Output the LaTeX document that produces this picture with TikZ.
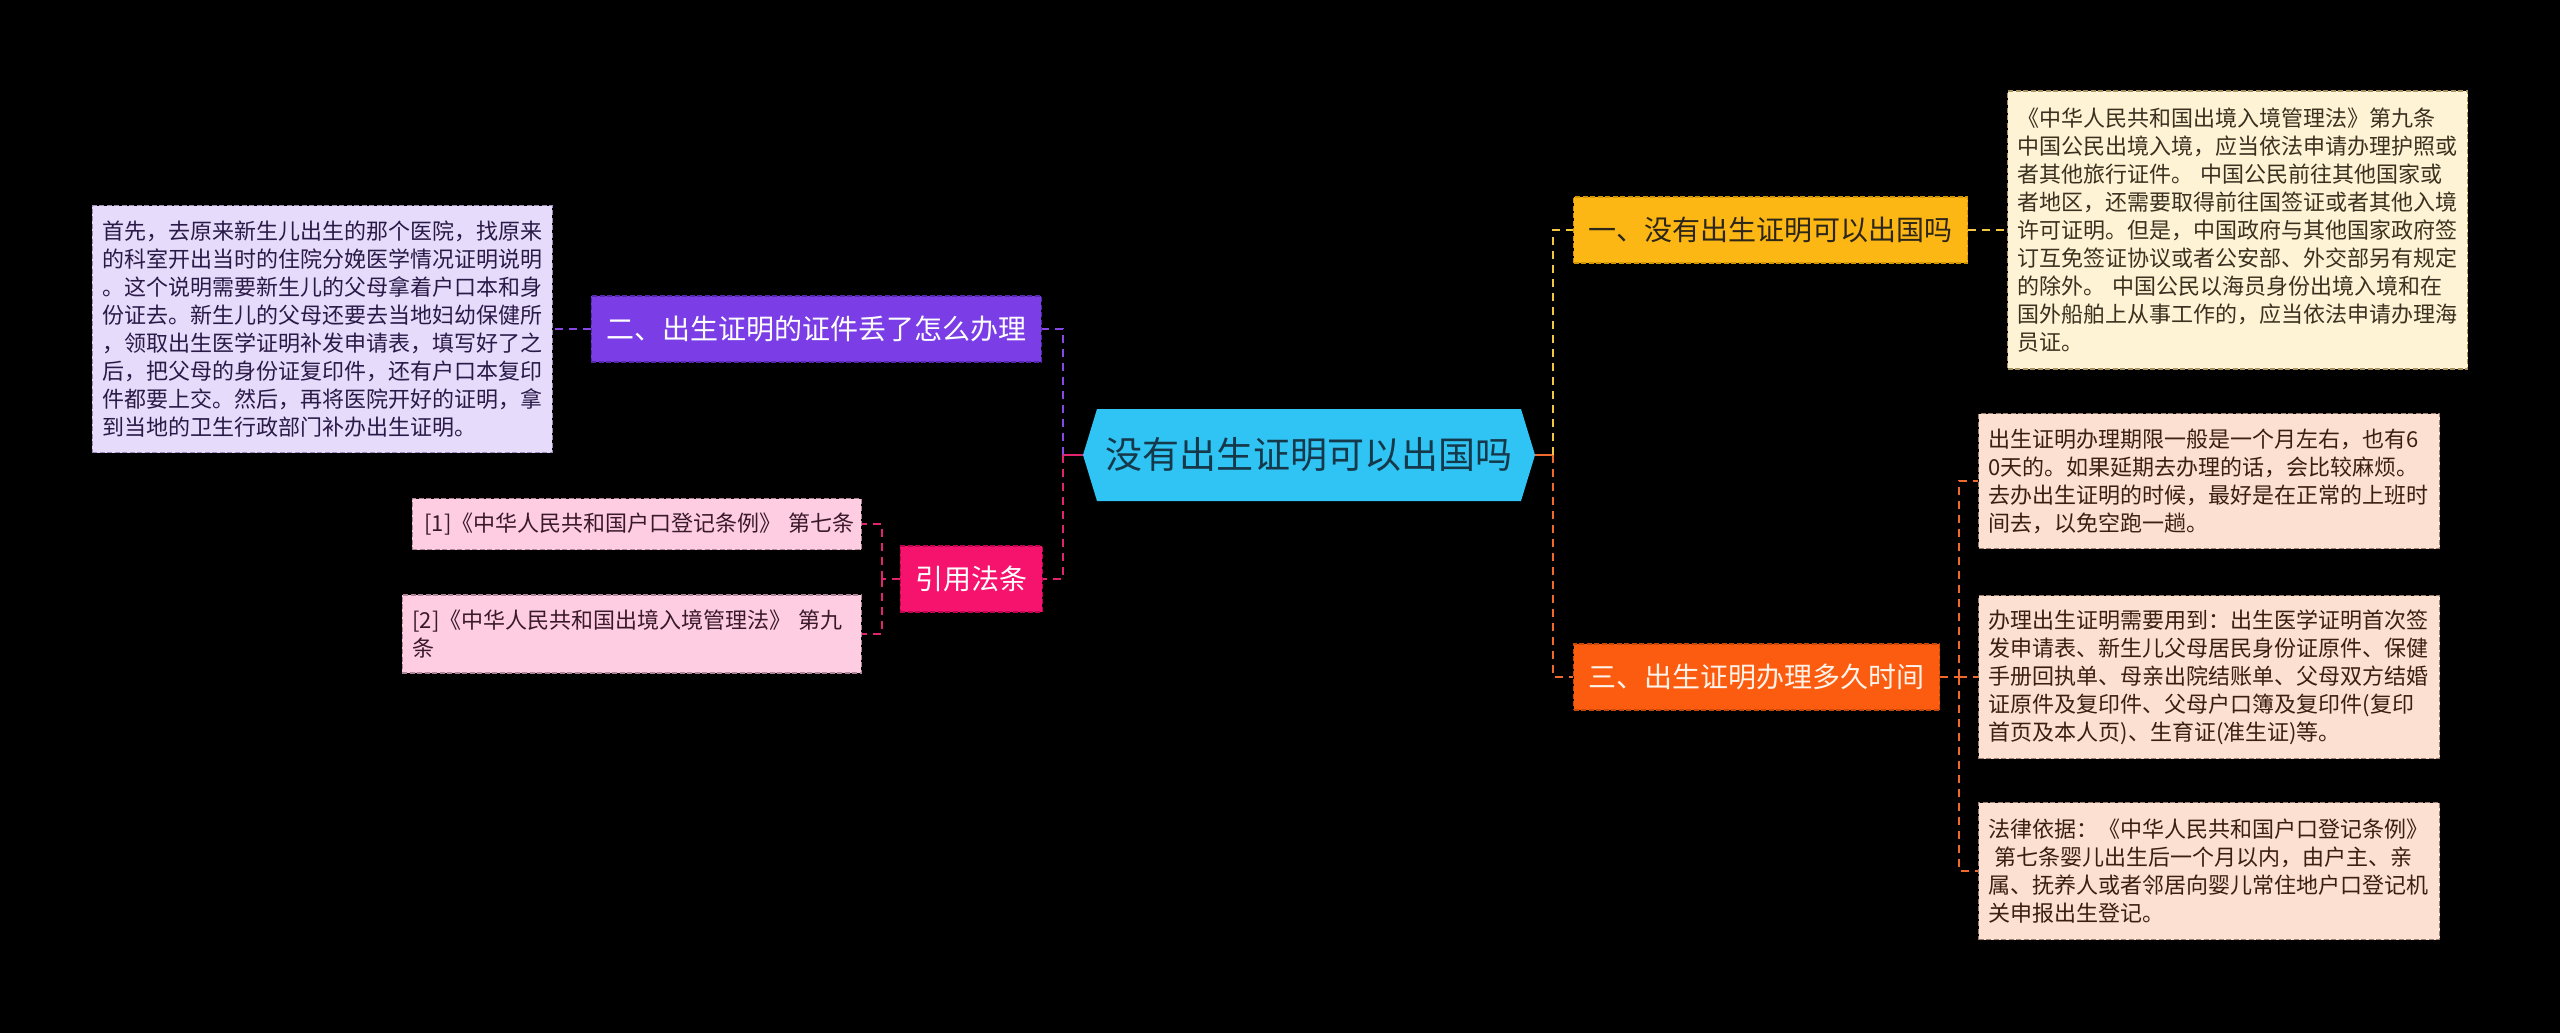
\documentclass[tikz,border=0pt]{standalone}
\usepackage{fontspec}
\setmainfont{Noto Sans CJK SC}
\usepackage{tikz}

\definecolor{rootfill}{HTML}{2FC4F3}
\definecolor{rootink}{HTML}{15394A}
\definecolor{yelfill}{HTML}{FDB714}
\definecolor{yeledge}{HTML}{D39506}
\definecolor{yelink}{HTML}{2B2618}
\definecolor{yelleaf}{HTML}{FEF3D4}
\definecolor{yelleafedge}{HTML}{A8925E}
\definecolor{yelleafink}{HTML}{3A3120}
\definecolor{yelline}{HTML}{F2C744}
\definecolor{orfill}{HTML}{FC5C10}
\definecolor{oredge}{HTML}{C94806}
\definecolor{orink}{HTML}{FFF2E8}
\definecolor{orleaf}{HTML}{FCE1D3}
\definecolor{orleafedge}{HTML}{9E7E6C}
\definecolor{orleafink}{HTML}{3B2012}
\definecolor{orline}{HTML}{EF6A2C}
\definecolor{purfill}{HTML}{7B3EE6}
\definecolor{puredge}{HTML}{5527AE}
\definecolor{purleaf}{HTML}{E6DBFA}
\definecolor{purleafedge}{HTML}{9A8CB8}
\definecolor{purleafink}{HTML}{2A1A48}
\definecolor{purline}{HTML}{8848E6}
\definecolor{pinkfill}{HTML}{F5136D}
\definecolor{pinkedge}{HTML}{BF0350}
\definecolor{pinkleaf}{HTML}{FECDE2}
\definecolor{pinkleafedge}{HTML}{B0859A}
\definecolor{pinkleafink}{HTML}{3A1A2A}
\definecolor{pinkline}{HTML}{E0246E}

\begin{document}
\begin{tikzpicture}[x=1pt,y=-1pt,
    box/.style={draw, dash pattern=on 5pt off 2.5pt, line width=1.2pt},
    branch/.style={box, inner xsep=15pt, inner ysep=0pt, minimum height=66pt,
      font=\fontsize{28pt}{34pt}\selectfont},
    leaf/.style={box, inner xsep=10pt, inner ysep=0pt, align=left,
      font=\fontsize{22pt}{28pt}\selectfont},
    link/.style={line width=2.6pt, dash pattern=on 8pt off 6pt},
    root/.style={fill=black, minimum width=452pt, minimum height=92pt, inner sep=0pt,
      text=rootink, font=\fontsize{37pt}{44pt}\selectfont,
      path picture={\fill[rootfill] ([xshift=14pt]path picture bounding box.north west)
        -- ([xshift=-14pt]path picture bounding box.north east)
        -- (path picture bounding box.east)
        -- ([xshift=-14pt]path picture bounding box.south east)
        -- ([xshift=14pt]path picture bounding box.south west)
        -- (path picture bounding box.west) -- cycle;}}]
          \useasboundingbox (0,0) rectangle (2560,1033);
          \fill[black] (0,0) rectangle (2560,1033);

          % centre
          \node[root] (root) at (1309,455) {没有出生证明可以出国吗};

          % branches
          \node[branch, anchor=west, fill=yelfill, draw=yeledge, text=yelink] (yb) at (1573,230) {一、没有出生证明可以出国吗};
          \node[branch, anchor=west, fill=orfill, draw=oredge, text=orink] (ob) at (1573,677) {三、出生证明办理多久时间};
          \node[branch, anchor=east, fill=purfill, draw=puredge, text=white] (pb) at (1042,329) {二、出生证明的证件丢了怎么办理};
          \node[branch, anchor=east, fill=pinkfill, draw=pinkedge, text=white] (kb) at (1043,579) {引用法条};

          % leaves
          \node[leaf, anchor=west, text width=440pt, minimum height=278pt, fill=yelleaf, draw=yelleafedge, text=yelleafink] (yc) at (2007,230) {《中华人民共和国出境入境管理法》第九条\\中国公民出境入境，应当依法申请办理护照或\\者其他旅行证件。~中国公民前往其他国家或\\者地区，还需要取得前往国签证或者其他入境\\许可证明。但是，中国政府与其他国家政府签\\订互免签证协议或者公安部、外交部另有规定\\的除外。~中国公民以海员身份出境入境和在\\国外船舶上从事工作的，应当依法申请办理海\\员证。};
          \node[leaf, anchor=west, text width=441pt, minimum height=135pt, fill=orleaf, draw=orleafedge, text=orleafink] (oc1) at (1978,481) {出生证明办理期限一般是一个月左右，也有6\\0天的。如果延期去办理的话，会比较麻烦。\\去办出生证明的时候，最好是在正常的上班时\\间去，以免空跑一趟。};
          \node[leaf, anchor=west, text width=441pt, minimum height=163pt, fill=orleaf, draw=orleafedge, text=orleafink] (oc2) at (1978,677) {办理出生证明需要用到：出生医学证明首次签\\发申请表、新生儿父母居民身份证原件、保健\\手册回执单、母亲出院结账单、父母双方结婚\\证原件及复印件、父母户口簿及复印件(复印\\首页及本人页)、生育证(准生证)等。};
          \node[leaf, anchor=west, text width=441pt, minimum height=137pt, fill=orleaf, draw=orleafedge, text=orleafink] (oc3) at (1978,871) {法律依据：《中华人民共和国户口登记条例》\\\hspace*{6pt}第七条婴儿出生后一个月以内，由户主、亲\\属、抚养人或者邻居向婴儿常住地户口登记机\\关申报出生登记。};
          \node[leaf, anchor=east, text width=440pt, minimum height=247pt, fill=purleaf, draw=purleafedge, text=purleafink] (pc) at (553,329) {首先，去原来新生儿出生的那个医院，找原来\\的科室开出当时的住院分娩医学情况证明说明\\。这个说明需要新生儿的父母拿着户口本和身\\份证去。新生儿的父母还要去当地妇幼保健所\\，领取出生医学证明补发申请表，填写好了之\\后，把父母的身份证复印件，还有户口本复印\\件都要上交。然后，再将医院开好的证明，拿\\到当地的卫生行政部门补办出生证明。};
          \node[leaf, anchor=east, text width=429pt, minimum height=51pt, fill=pinkleaf, draw=pinkleafedge, text=pinkleafink] (kc1) at (862,524) {\hspace*{2pt}[1]《中华人民共和国户口登记条例》~第七条};
          \node[leaf, anchor=east, text width=439pt, minimum height=78pt, fill=pinkleaf, draw=pinkleafedge, text=pinkleafink] (kc2) at (862,634) {[2]《中华人民共和国出境入境管理法》~第九\\条};

          % connectors
          \coordinate (jl) at (1063,455);
          \coordinate (jr) at (1553,455);
          \coordinate (jo) at (1959,677);
          \coordinate (jk) at (882,579);
          \draw[line width=2.6pt, pinkline] (root.west) -- (jl);
          \draw[line width=2.6pt, orline] (root.east) -- (jr);
          \draw[link, purline] (jl) |- (pb.east);
          \draw[link, pinkline] (jl) |- (kb.east);
          \draw[link, yelline] (jr) |- (yb.west);
          \draw[link, orline] (jr) |- (ob.west);
          \draw[link, purline] (pb.west) -- (pc.east);
          \draw[link, yelline] (yb.east) -- (yc.west);
          \draw[link, orline] (ob.east) -- (jo);
          \foreach \n in {1,2,3}
            \draw[link, orline] (jo) |- (oc\n.west);
          \draw[link, pinkline] (kb.west) -- (jk);
          \draw[link, pinkline] (jk) |- (kc1.east);
          \draw[link, pinkline] (jk) |- (kc2.east);
    \end{tikzpicture}
\end{document}
